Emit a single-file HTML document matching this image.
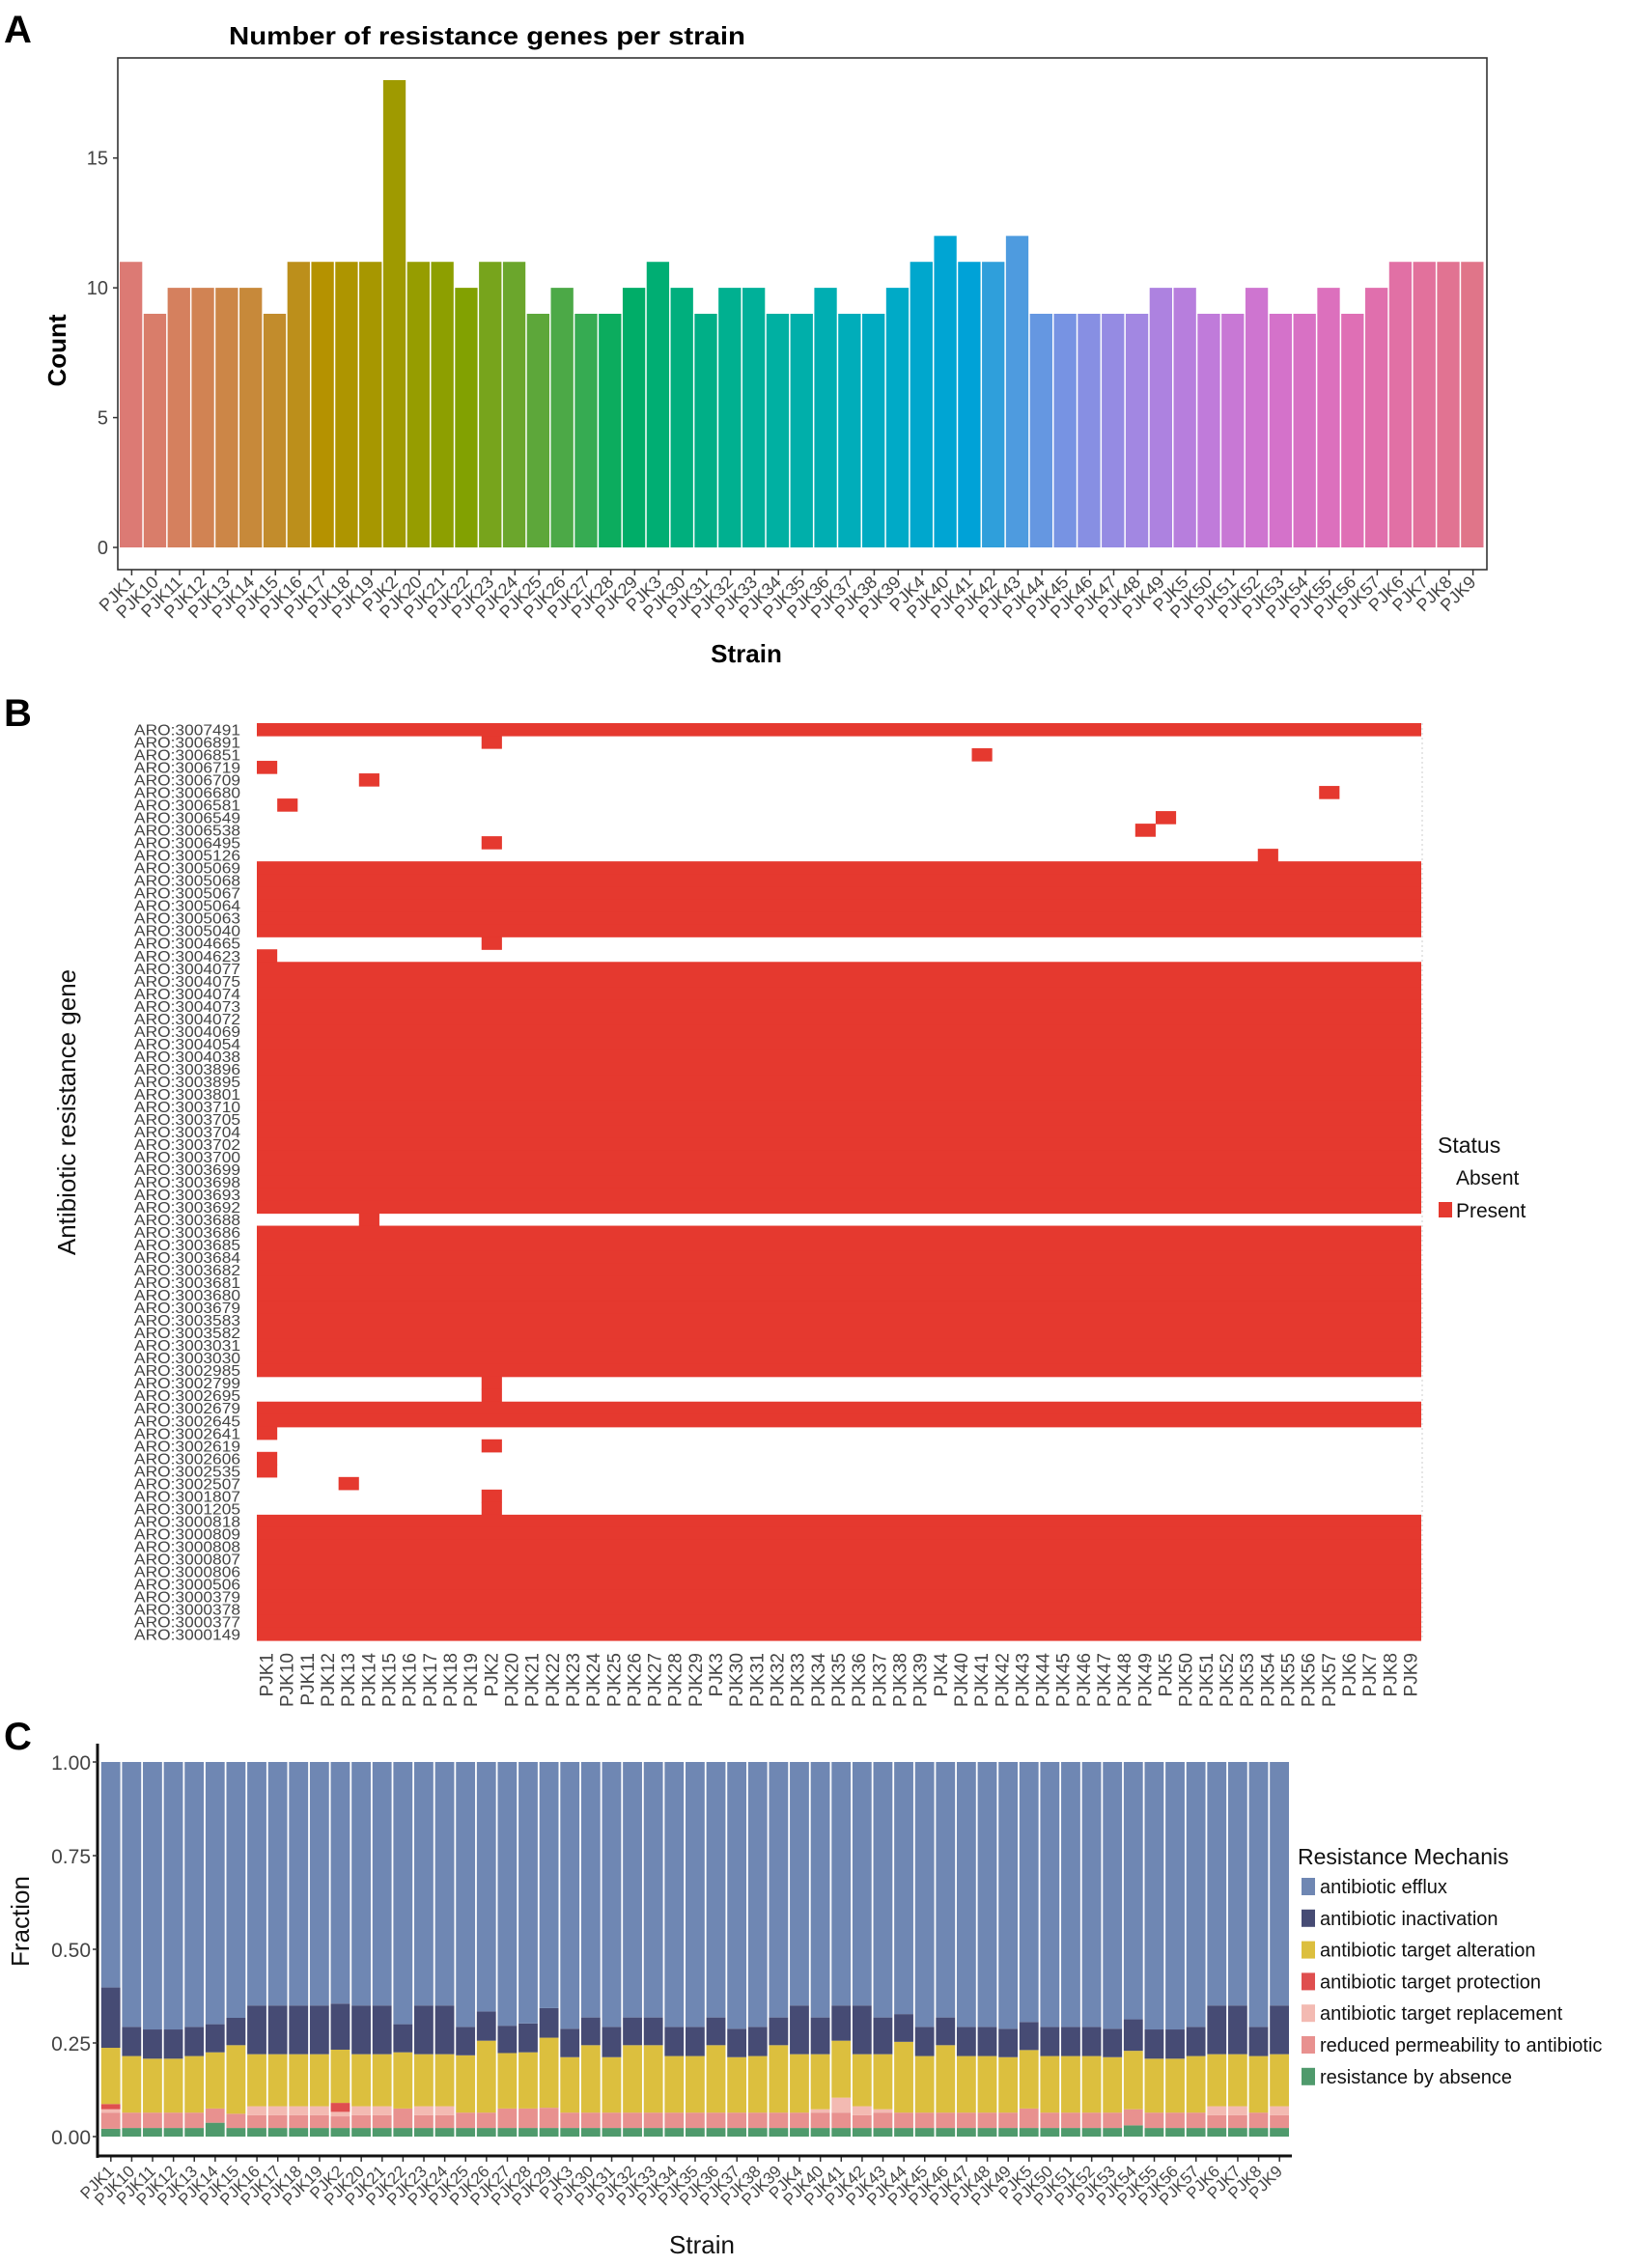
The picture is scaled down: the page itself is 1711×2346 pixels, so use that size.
<!DOCTYPE html>
<html><head><meta charset="utf-8">
<style>
html,body{margin:0;padding:0;background:#fff;}
svg{display:block;font-family:"Liberation Sans",Arial,sans-serif;}
</style></head>
<body>
<svg id="fig" width="1711" height="2346" viewBox="0 0 1711 2346" xmlns="http://www.w3.org/2000/svg">
<rect x="0" y="0" width="1711" height="2346" fill="#fff"/>
<text x="4" y="44" font-size="40" font-weight="bold">A</text>
<text x="4" y="752" font-size="40" font-weight="bold">B</text>
<text x="4" y="1812" font-size="40" font-weight="bold">C</text>
<g id="pa"></g>
<g id="pb"></g>
<g id="pc"></g>
</svg>
<script>
const strains = ["PJK1","PJK10","PJK11","PJK12","PJK13","PJK14","PJK15","PJK16","PJK17","PJK18","PJK19","PJK2","PJK20","PJK21","PJK22","PJK23","PJK24","PJK25","PJK26","PJK27","PJK28","PJK29","PJK3","PJK30","PJK31","PJK32","PJK33","PJK34","PJK35","PJK36","PJK37","PJK38","PJK39","PJK4","PJK40","PJK41","PJK42","PJK43","PJK44","PJK45","PJK46","PJK47","PJK48","PJK49","PJK5","PJK50","PJK51","PJK52","PJK53","PJK54","PJK55","PJK56","PJK57","PJK6","PJK7","PJK8","PJK9"];
const geneCounts = [11,9,10,10,10,10,9,11,11,11,11,18,11,11,10,11,11,9,10,9,9,10,11,10,9,10,10,9,9,10,9,9,10,11,12,11,11,12,9,9,9,9,9,10,10,9,9,10,9,9,10,9,10,11,11,11,11];
const countTicks = [0,5,10,15];

const genes = ["ARO:3007491","ARO:3006891","ARO:3006851","ARO:3006719","ARO:3006709","ARO:3006680","ARO:3006581","ARO:3006549","ARO:3006538","ARO:3006495","ARO:3005126","ARO:3005069","ARO:3005068","ARO:3005067","ARO:3005064","ARO:3005063","ARO:3005040","ARO:3004665","ARO:3004623","ARO:3004077","ARO:3004075","ARO:3004074","ARO:3004073","ARO:3004072","ARO:3004069","ARO:3004054","ARO:3004038","ARO:3003896","ARO:3003895","ARO:3003801","ARO:3003710","ARO:3003705","ARO:3003704","ARO:3003702","ARO:3003700","ARO:3003699","ARO:3003698","ARO:3003693","ARO:3003692","ARO:3003688","ARO:3003686","ARO:3003685","ARO:3003684","ARO:3003682","ARO:3003681","ARO:3003680","ARO:3003679","ARO:3003583","ARO:3003582","ARO:3003031","ARO:3003030","ARO:3002985","ARO:3002799","ARO:3002695","ARO:3002679","ARO:3002645","ARO:3002641","ARO:3002619","ARO:3002606","ARO:3002535","ARO:3002507","ARO:3001807","ARO:3001205","ARO:3000818","ARO:3000809","ARO:3000808","ARO:3000807","ARO:3000806","ARO:3000506","ARO:3000379","ARO:3000378","ARO:3000377","ARO:3000149"];
const presence = [
"ALL",["PJK2"],["PJK41"],["PJK1"],["PJK14"],["PJK57"],["PJK10"],["PJK5"],["PJK49"],["PJK2"],["PJK54"],
"ALL","ALL","ALL","ALL","ALL","ALL",["PJK2"],["PJK1"],
"ALL","ALL","ALL","ALL","ALL","ALL","ALL","ALL","ALL","ALL","ALL","ALL","ALL","ALL","ALL","ALL","ALL","ALL","ALL","ALL",
["PJK14"],
"ALL","ALL","ALL","ALL","ALL","ALL","ALL","ALL","ALL","ALL","ALL","ALL",
["PJK2"],["PJK2"],"ALL","ALL",["PJK1"],["PJK2"],["PJK1"],["PJK1"],["PJK13"],["PJK2"],["PJK2"],
"ALL","ALL","ALL","ALL","ALL","ALL","ALL","ALL","ALL","ALL"];

const mechNames = ["antibiotic efflux","antibiotic inactivation","antibiotic target alteration","antibiotic target protection","antibiotic target replacement","reduced permeability to antibiotic","resistance by absence"];
const absence = [.021,.023,.023,.023,.023,.037,.023,.023,.023,.023, .023,.023,.023,.023,.023,.023,.023,.023,.023,.023, .023,.023,.023,.023,.023,.023,.023,.023,.023,.023, .023,.023,.023,.023,.023,.023,.023,.023,.023,.023, .023,.023,.023,.023,.023,.023,.023,.023,.023,.030, .023,.023,.023,.023,.023,.023,.023];
const permeability = [.043,.041,.041,.041,.041,.038,.038,.034,.034,.034, .034,.031,.034,.034,.052,.034,.034,.041,.041,.052, .052,.054,.041,.041,.041,.041,.041,.041,.041,.041, .041,.041,.041,.041,.041,.041,.034,.041,.041,.041, .041,.041,.041,.041,.052,.041,.041,.041,.041,.043, .041,.041,.041,.034,.034,.041,.034];
const replacement = [.009,0,0,0,0,0,0,.024,.024,.024, .024,.012,.024,.024,0,.024,.024,0,0,0, 0,0,0,0,0,0,0,0,0,0, 0,0,0,0,.009,.040,.024,.009,0,0, 0,0,0,0,0,0,0,0,0,0, 0,0,0,.024,.024,0,.024];
const protection = [.014,0,0,0,0,0,0,0,0,0, 0,.024,0,0,0,0,0,0,0,0, 0,0,0,0,0,0,0,0,0,0, 0,0,0,0,0,0,0,0,0,0, 0,0,0,0,0,0,0,0,0,0, 0,0,0,0,0,0,0];
const alteration = [.150,.151,.144,.144,.151,.150,.183,.139,.139,.139, .139,.142,.139,.139,.150,.139,.139,.153,.192,.148, .150,.187,.148,.180,.148,.180,.180,.151,.151,.180, .148,.151,.180,.156,.147,.152,.139,.147,.189,.151, .180,.151,.151,.148,.156,.151,.151,.151,.148,.156, .144,.144,.151,.139,.139,.151,.139];
const inactivation = [.161,.078,.078,.078,.078,.075,.073,.130,.130,.130, .130,.123,.130,.130,.075,.130,.130,.076,.078,.073, .077,.079,.076,.074,.081,.074,.074,.078,.078,.074, .076,.078,.074,.130,.098,.094,.130,.098,.074,.078, .074,.078,.078,.076,.075,.078,.078,.078,.076,.084, .078,.078,.078,.130,.130,.078,.130];
const efflux = [.602,.707,.714,.714,.707,.700,.683,.650,.650,.650, .650,.645,.650,.650,.700,.650,.650,.707,.666,.704, .698,.657,.712,.682,.707,.682,.682,.707,.707,.682, .712,.707,.682,.650,.682,.650,.650,.682,.673,.707, .682,.707,.707,.712,.694,.707,.707,.707,.712,.687, .714,.714,.707,.650,.650,.707,.650];
const fracTicks = ["0.00","0.25","0.50","0.75","1.00"];

const NS="http://www.w3.org/2000/svg";
function mk(tag, parent, attrs, txt){const e=document.createElementNS(NS,tag);for(const k in attrs)e.setAttribute(k,attrs[k]);if(txt!==undefined)e.textContent=txt;parent.appendChild(e);return e;}

function hcl(h,c,l){const hr=h*Math.PI/180;const u=c*Math.cos(hr),v=c*Math.sin(hr);
 const Xn=95.047,Yn=100,Zn=108.883;const un=4*Xn/(Xn+15*Yn+3*Zn),vn=9*Yn/(Xn+15*Yn+3*Zn);
 const Y=Yn*Math.pow((l+16)/116,3);const up=u/(13*l)+un,vp=v/(13*l)+vn;
 const X=Y*9*up/(4*vp),Z=Y*(12-3*up-20*vp)/(4*vp);
 const x=X/100,y=Y/100,z=Z/100;
 let r=3.2406*x-1.5372*y-0.4986*z,g=-0.9689*x+1.8758*y+0.0415*z,b=0.0557*x-0.2040*y+1.0570*z;
 const gm=t=>{t=t<=0.0031308?12.92*t:1.055*Math.pow(t,1/2.4)-0.055;return Math.round(Math.max(0,Math.min(1,t))*255);};
 return `rgb(${gm(r)},${gm(g)},${gm(b)})`;}

// ---------- Panel A ----------
(function(){
 const g=document.getElementById('pa');
 const L=122,R=1540,T=60,B=590; const y0=567, pu=(567-83)/18;
 const yA=v=>y0-v*pu;
 const bw=(R-2-(L+2))/strains.length; const xA=i=>L+2+i*bw;
 const t=mk('text',g,{x:237,y:46,'font-size':26,'font-weight':'bold',textLength:535,lengthAdjust:'spacingAndGlyphs'},'Number of resistance genes per strain');
 
 
 const n=strains.length;
 strains.forEach((s,i)=>{
  const r=mk('rect',g,{x:xA(i),y:yA(geneCounts[i]),width:bw-1.5,height:y0-yA(geneCounts[i]),fill:hcl(15+i*360/(n+1),72,62)});
  
  
  const cx=xA(i)+bw/2;
  mk('line',g,{x1:cx,y1:B,x2:cx,y2:B+6,stroke:'#333','stroke-width':1.5});
  const lb=mk('text',g,{x:cx+4,y:B+14,'font-size':18,fill:'#444','text-anchor':'end',transform:`rotate(-45 ${cx+4} ${B+14})`},s);
  
  
 });
 const box=mk('rect',g,{x:L,y:T,width:R-L,height:B-T,fill:'none',stroke:'#333','stroke-width':1.6});
 
 
 countTicks.forEach(v=>{
  mk('line',g,{x1:L-5,y1:yA(v),x2:L,y2:yA(v),stroke:'#333','stroke-width':1.5});
  const tl=mk('text',g,{x:L-10,y:yA(v)+7,'font-size':20,fill:'#444','text-anchor':'end'},String(v));
  
  
 });
 const yt=mk('text',g,{x:0,y:0,'font-size':26,'font-weight':'bold','text-anchor':'middle',transform:'translate(68 363) rotate(-90)'},'Count');
 
 
 const xt=mk('text',g,{x:773,y:686,'font-size':26,'font-weight':'bold','text-anchor':'middle'},'Strain');
 
 
})();

// ---------- Panel B ----------
(function(){
 const g=document.getElementById('pb');
 const L=266,R=1472,T=749,B=1699;
 const cw=(R-L)/strains.length, rh=(B-T)/genes.length;
 const xB=i=>L+i*cw, yB=j=>T+j*rh;
 mk('line',g,{x1:R+1,y1:T,x2:R+1,y2:B,stroke:'#ccc','stroke-width':1,'stroke-dasharray':'2 3'});
 genes.forEach((gn,j)=>{
  const p=presence[j];
  if(p==='ALL'){
   const r=mk('rect',g,{x:L,y:yB(j),width:R-L,height:rh+0.6,fill:'#e5392f'});
   
   
  } else {
   p.forEach(s=>{const i=strains.indexOf(s);
    const r=mk('rect',g,{x:xB(i),y:yB(j),width:cw,height:rh+0.6,fill:'#e5392f'});
    
    
   });
  }
  const t=mk('text',g,{x:249,y:yB(j)+rh/2+6,'font-size':16,fill:'#444','text-anchor':'end',textLength:110,lengthAdjust:'spacingAndGlyphs'},gn);
  
  
 });
 strains.forEach((s,i)=>{
  const cx=xB(i)+cw/2+6;
  const t=mk('text',g,{x:cx,y:1712,'font-size':19,fill:'#444','text-anchor':'end',transform:`rotate(-90 ${cx} 1712)`},s);
  
  
 });
 const yt=mk('text',g,{x:0,y:0,'font-size':26,'text-anchor':'middle',fill:'#111',transform:'translate(78 1152) rotate(-90)'},'Antibiotic resistance gene');
 
 
 const lt=mk('text',g,{x:1489,y:1194,'font-size':23,fill:'#111'},'Status');
 
 
 const la=mk('text',g,{x:1508,y:1227,'font-size':21,fill:'#111'},'Absent');
 
 
 mk('rect',g,{x:1490,y:1245,width:14,height:16,fill:'#e5392f'});
 const lp=mk('text',g,{x:1508,y:1261,'font-size':21,fill:'#111'},'Present');
 
 
})();

// ---------- Panel C ----------
(function(){
 const g=document.getElementById('pc');
 const L=101, y1=1825, y0=2213, R=1338;
 const yC=v=>y0-v*(y0-y1);
 const bw=(1336-104)/strains.length; const xC=i=>104+i*bw;
 const series=[absence,permeability,replacement,protection,alteration,inactivation,efflux];
 const cols=["#4f9a6c","#e8918f","#f3bab2","#df4f4f","#dcbf3e","#464b74","#6f87b3"];
 strains.forEach((s,i)=>{
  let acc=0;
  series.forEach((arr,k)=>{
   const v=arr[i]; if(v<=0){return;}
   const r=mk('rect',g,{x:xC(i)+0.8,y:yC(acc+v),width:bw-1.8,height:yC(acc)-yC(acc+v),fill:cols[k]});
   
   
   acc+=v;
  });
  const cx=xC(i)+bw/2;
  mk('line',g,{x1:cx,y1:2234,x2:cx,y2:2239,stroke:'#333','stroke-width':1.5});
  const t=mk('text',g,{x:cx+4,y:2250,'font-size':17,fill:'#444','text-anchor':'end',transform:`rotate(-45 ${cx+4} 2250)`},s);
  
  
 });
 mk('line',g,{x1:L,y1:1806,x2:L,y2:2235,stroke:'#111','stroke-width':3});
 mk('line',g,{x1:L,y1:2233,x2:R,y2:2233,stroke:'#111','stroke-width':3});
 fracTicks.forEach(tk=>{
  const v=parseFloat(tk);
  mk('line',g,{x1:L-5,y1:yC(v),x2:L,y2:yC(v),stroke:'#333','stroke-width':1.5});
  const t=mk('text',g,{x:94,y:yC(v)+8,'font-size':21,fill:'#444','text-anchor':'end'},tk);
  
  
 });
 const yt=mk('text',g,{x:0,y:0,'font-size':26,'text-anchor':'middle',fill:'#111',transform:'translate(30 1990) rotate(-90)'},'Fraction');
 
 
 const xt=mk('text',g,{x:727,y:2334,'font-size':26,'text-anchor':'middle',fill:'#111'},'Strain');
 
 
 const lt=mk('text',g,{x:1344,y:1931,'font-size':23,fill:'#111'},'Resistance Mechanis');
 
 
 const legCols=["#6f87b3","#464b74","#dcbf3e","#df4f4f","#f3bab2","#e8918f","#4f9a6c"];
 mechNames.forEach((m,k)=>{
  const cy=1954+k*32.8;
  mk('rect',g,{x:1348,y:cy-9,width:14,height:18,fill:legCols[k]});
  const t=mk('text',g,{x:1367,y:cy+7,'font-size':20,fill:'#111'},m);
  
  
 });
})();
</script>
</body></html>
